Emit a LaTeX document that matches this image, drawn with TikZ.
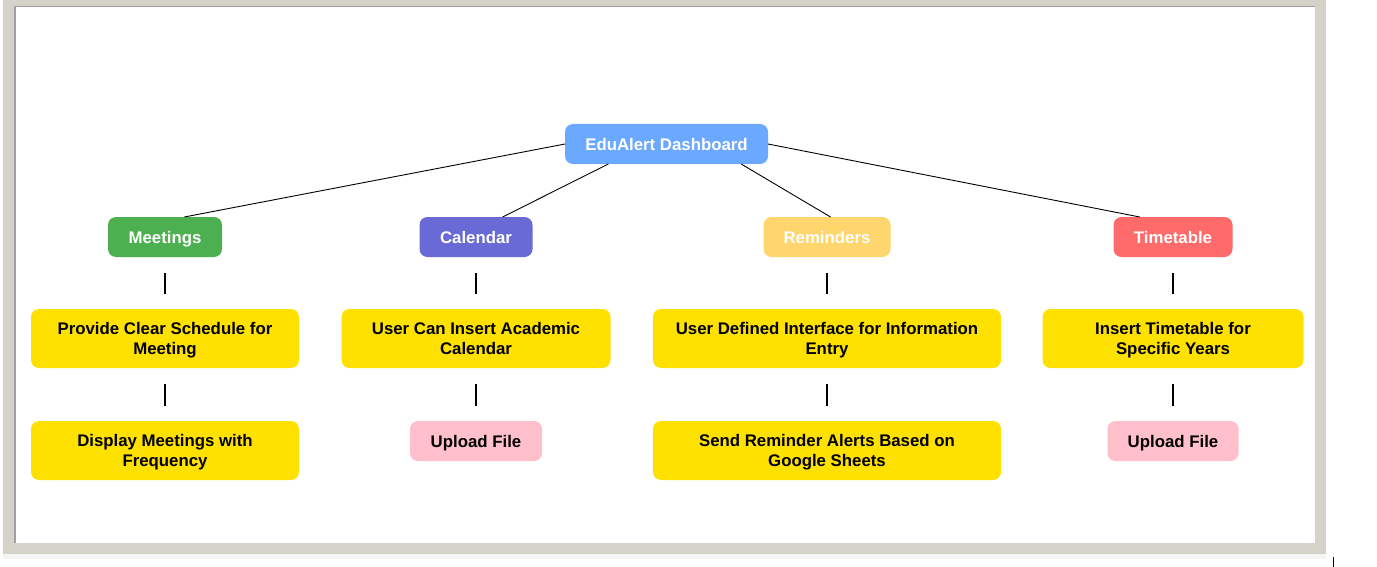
\documentclass[tikz,border=0pt]{standalone}
\usepackage{fontspec}
\setmainfont{Liberation Sans}
\usepackage{tikz}

\definecolor{framegray}{HTML}{D5D2CA}
\definecolor{rootblue}{HTML}{6AA9FF}
\definecolor{meetgreen}{HTML}{4CAF50}
\definecolor{calpurple}{HTML}{6A6AD6}
\definecolor{remorange}{HTML}{FFD56E}
\definecolor{timered}{HTML}{FF6B6B}
\definecolor{taskyellow}{HTML}{FFE100}
\definecolor{filepink}{HTML}{FFC0CB}

\begin{document}
\begin{tikzpicture}[x=1pt, y=-1pt,
        box/.style={rounded corners=8pt, align=center, inner sep=0pt, outer sep=0pt,
            text depth=0pt, font=\fontsize{16.8}{19.5}\selectfont\bfseries},
        topbox/.style={box, text=white, minimum height=40pt},
        taskbox/.style={box, fill=taskyellow, text=black, minimum height=59pt},
        filebox/.style={box, fill=filepink, text=black, minimum height=40pt},
        link/.style={black, line width=0.9pt},
        tick/.style={black, line width=2pt, shorten <=16pt, shorten >=15pt}]
        \useasboundingbox (0,0) rectangle (1377,567);
        % frame
        \fill [framegray] (3,0) rectangle (1326,554);
        \fill [white] (14,6) rectangle (1315,543);
        \draw [gray!75, line width=1.5pt] (14.75,543) -- (14.75,6.75) -- (1315,6.75);
        \fill [gray!8] (3,554) rectangle (1326,559);
        \draw [black, line width=1pt] (1333,557) -- (1333,567);

        % root and first row
        \node [topbox, fill=rootblue, minimum width=203pt] (root) at (666.5,144) {EduAlert Dashboard};
        \node [topbox, fill=meetgreen, minimum width=114pt] (meet) at (165,237) {Meetings};
        \node [topbox, fill=calpurple, minimum width=113pt] (cal) at (476,237) {Calendar};
        \node [topbox, fill=remorange, minimum width=127pt] (rem) at (827,237) {Reminders};
        \node [topbox, fill=timered, minimum width=119pt] (time) at (1173,237) {Timetable};

        % second row
        \node [taskbox, minimum width=268pt] (prov) at (165,338.5) {Provide Clear Schedule for\\Meeting};
        \node [taskbox, minimum width=269pt] (ucal) at (476,338.5) {User Can Insert Academic\\Calendar};
        \node [taskbox, minimum width=348pt] (udef) at (827,338.5) {User Defined Interface for Information\\Entry};
        \node [taskbox, minimum width=261pt] (itime) at (1173,338.5) {Insert Timetable for\\Specific Years};

        % third row
        \node [taskbox, minimum width=268pt] (disp) at (165,450.5) {Display Meetings with\\Frequency};
        \node [filebox, minimum width=132pt] (upcal) at (476,441) {Upload File};
        \node [taskbox, minimum width=348pt] (send) at (827,450.5) {Send Reminder Alerts Based on\\Google Sheets};
        \node [filebox, minimum width=131pt] (uptime) at (1173,441) {Upload File};

        % links from the root
        \draw [link] (root.west) -- (meet.46);
        \draw [link] (root.199) -- (cal.37);
        \draw [link] (root.345) -- (rem.80);
        \draw [link] (root.east) -- (time.149);

        % short ticks between rows
        \draw [tick] (meet.south) -- (prov.north);
        \draw [tick] (prov.south) -- (disp.north);
        \draw [tick] (cal.south) -- (ucal.north);
        \draw [tick] (ucal.south) -- (upcal.north);
        \draw [tick] (rem.south) -- (udef.north);
        \draw [tick] (udef.south) -- (send.north);
        \draw [tick] (time.south) -- (itime.north);
        \draw [tick] (itime.south) -- (uptime.north);
    \end{tikzpicture}
\end{document}
